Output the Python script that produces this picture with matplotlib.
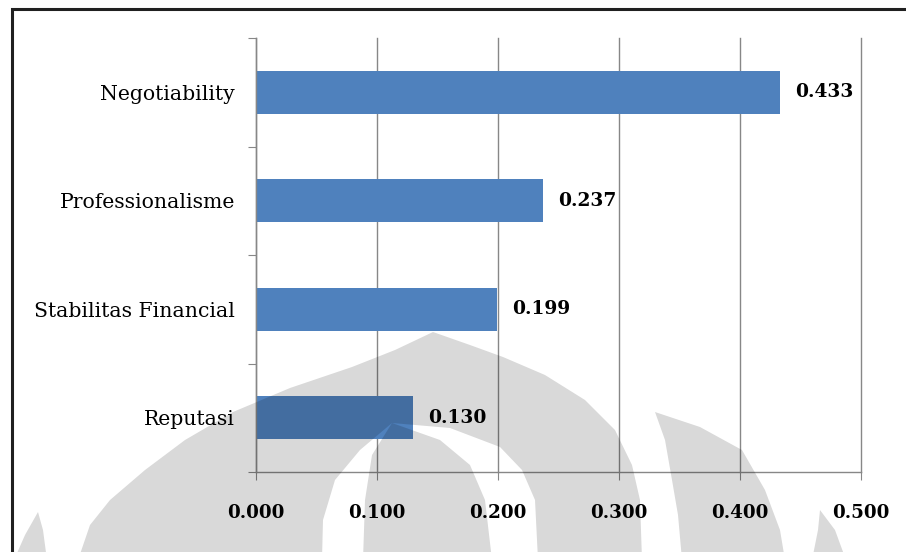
import numpy as np
import matplotlib
matplotlib.use("Agg")
from matplotlib import pyplot as plt
from matplotlib.patches import Rectangle, Polygon

# data (bottom to top)
categories = ["Reputasi", "Stabilitas Financial", "Professionalisme", "Negotiability"]
values = [0.130, 0.199, 0.237, 0.433]
x_ticks = [0.0, 0.1, 0.2, 0.3, 0.4, 0.5]

bar_color = "#4F81BD"
grid_color = "#878787"
W, H = 906, 552

plt.rcParams["font.family"] = ["DejaVu Serif"]

fig = plt.figure(figsize=(W / 100, H / 100), dpi=100)
fig.patch.set_facecolor("white")
ax = fig.add_axes([256 / W, 1 - 472 / H, (861 - 256) / W, (472 - 38) / H])

y = np.arange(len(categories))
ax.barh(y, values, height=0.4, color=bar_color, zorder=2)
for yi, v in zip(y, values):
    ax.annotate("{:.3f}".format(v), (v, yi), xytext=(11, 0), textcoords="offset points",
                va="center", ha="left", fontsize=13.4, fontweight="bold")

ax.set_xlim(0, 0.5)
ax.set_ylim(-0.5, len(categories) - 0.5)
ax.set_xticks(x_ticks)
ax.set_xticklabels(["{:.3f}".format(t) for t in x_ticks], fontsize=13.2, fontweight="bold")
ax.xaxis.grid(True, color=grid_color, linewidth=1, zorder=1)
ax.set_axisbelow(True)
for gl in ax.get_xgridlines():
    gl.set_clip_on(False)

# category boundaries as major ticks, names on minor ticks
ax.set_yticks(np.arange(-0.5, len(categories), 1.0))
ax.set_yticklabels([])
ax.set_yticks(y, minor=True)
ax.set_yticklabels(categories, minor=True, fontsize=14.7)
ax.tick_params(axis="y", which="major", length=6, color=grid_color, direction="out")
ax.tick_params(axis="y", which="minor", length=0, pad=15)
ax.tick_params(axis="x", length=6, color=grid_color, direction="out", pad=17)

for s in ["top", "right"]:
    ax.spines[s].set_visible(False)
for s in ["left", "bottom"]:
    ax.spines[s].set_color(grid_color)
    ax.spines[s].set_linewidth(1)

# chart frame
fig.patches.append(Rectangle((12 / W, -0.1), 1.2, 1 - 9 / H + 0.1, transform=fig.transFigure,
                             fill=False, edgecolor="#202020", linewidth=2.2))

# watermark overlay (pixel coords, y down)
ov = fig.add_axes([0, 0, 1, 1], zorder=10)
ov.set_xlim(0, W)
ov.set_ylim(H, 0)
ov.axis("off")
ov.patch.set_alpha(0)

big = [(78, 560), (90, 525), (110, 500), (145, 470), (185, 440), (233, 412), (290, 388),
       (352, 367), (395, 350), (433, 332), (470, 345), (503, 357), (545, 375), (585, 400),
       (615, 430), (632, 465), (640, 500), (642, 560),
       (538, 560), (535, 500), (522, 470), (500, 447), (450, 428), (392, 423),
       (360, 450), (335, 480), (323, 520), (322, 560)]
core = [(363, 560), (365, 500), (372, 455), (392, 423), (440, 440), (470, 465),
        (485, 500), (492, 560)]
mid = [(682, 560), (678, 515), (672, 480), (665, 440), (655, 412), (700, 427),
       (742, 450), (765, 490), (780, 530), (785, 560)]
right = [(812, 560), (818, 530), (820, 510), (835, 530), (846, 560)]
spike = [(14, 560), (25, 535), (38, 512), (43, 530), (47, 560)]
for pts in [big, core, mid, right, spike]:
    ov.add_patch(Polygon(pts, closed=True, facecolor="black", edgecolor="none", alpha=0.15))

fig.savefig("out.png", dpi=100)
